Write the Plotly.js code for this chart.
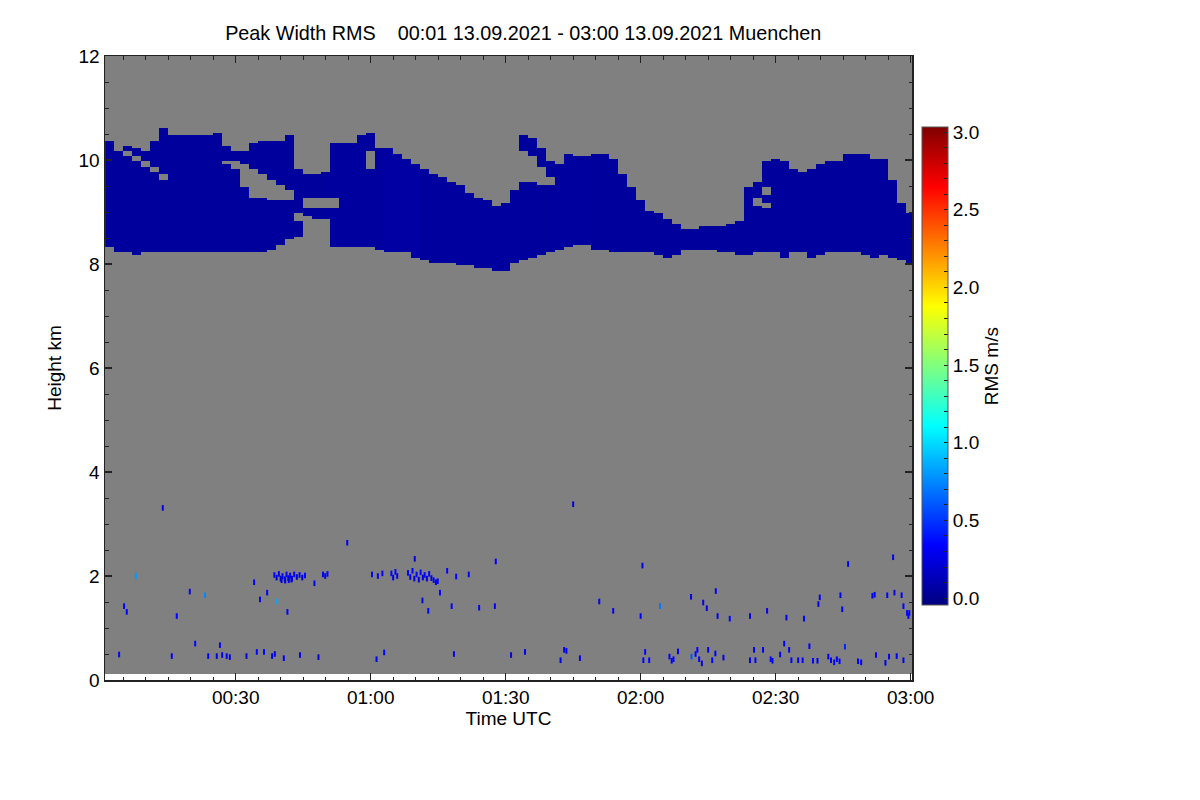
<!DOCTYPE html>
<html>
<head>
<meta charset="utf-8">
<script src="https://cdn.plot.ly/plotly-3.0.1.min.js"></script>
<style>
    html, body {margin: 0; padding: 0; background: #fff;}
    #plot {width: 1200px; height: 800px;}
</style>
</head>
<body>
<div id="plot"></div>
<script>
// profile columns, minutes after 00:00 UTC (one column every 2 minutes)
let columnMinutes = [2, 4, 6, 8, 10, 12, 14, 16, 18, 20, 22, 24, 26, 28, 30, 32, 34, 36, 38, 40,
    42, 44, 46, 48, 50, 52, 54, 56, 58, 60, 62, 64, 66, 68, 70, 72, 74, 76, 78, 80,
    82, 84, 86, 88, 90, 92, 94, 96, 98, 100, 102, 104, 106, 108, 110, 112, 114, 116, 118, 120,
    122, 124, 126, 128, 130, 132, 134, 136, 138, 140, 142, 144, 146, 148, 150, 152, 154, 156, 158, 160,
    162, 164, 166, 168, 170, 172, 174, 176, 178, 180];

// lower edge of the cirrus layer per column, km
let cloudBase = [8.35, 8.21, 8.21, 8.17, 8.21, 8.22, 8.22, 8.21, 8.22, 8.21,
    8.22, 8.22, 8.23, 8.22, 8.21, 8.22, 8.22, 8.25, 8.30, 8.37,
    8.49, 8.55, 8.92, 8.86, 8.86, 8.33, 8.33, 8.33, 8.33, 8.33,
    8.30, 8.24, 8.22, 8.21, 8.11, 8.08, 8.04, 8.01, 8.01, 8.00,
    7.98, 7.95, 7.92, 7.88, 7.90, 8.02, 8.06, 8.11, 8.17, 8.21,
    8.30, 8.35, 8.37, 8.37, 8.30, 8.27, 8.25, 8.25, 8.24, 8.24,
    8.22, 8.17, 8.14, 8.17, 8.28, 8.28, 8.30, 8.30, 8.24, 8.22,
    8.20, 8.20, 8.22, 8.22, 8.21, 8.14, 8.24, 8.21, 8.14, 8.17,
    8.21, 8.21, 8.21, 8.21, 8.20, 8.12, 8.17, 8.15, 8.08, 8.04];

// upper edge of the cirrus layer per column, km
let cloudTop = [10.37, 10.15, 10.27, 10.22, 10.16, 10.35, 10.62, 10.48, 10.48, 10.48,
    10.46, 10.46, 10.54, 10.29, 10.19, 10.17, 10.33, 10.37, 10.38, 10.37,
    10.45, 9.80, 9.72, 9.72, 9.75, 10.33, 10.33, 10.32, 10.48, 10.54,
    10.20, 10.20, 10.13, 10.00, 9.90, 9.81, 9.71, 9.65, 9.58, 9.52,
    9.39, 9.26, 9.20, 9.12, 9.15, 9.40, 10.45, 10.42, 10.23, 9.96,
    9.90, 10.10, 10.06, 10.05, 10.13, 10.13, 10.04, 9.74, 9.49, 9.23,
    9.04, 8.97, 8.88, 8.75, 8.69, 8.69, 8.72, 8.72, 8.72, 8.75,
    8.81, 9.45, 9.55, 9.97, 10.00, 9.97, 9.81, 9.76, 9.81, 9.94,
    9.95, 9.97, 10.12, 10.13, 10.12, 10.03, 10.03, 9.60, 9.15, 8.97];

// typical peak width rms inside the layer per column, m/s
let cloudRms = [0.04, 0.04, 0.04, 0.04, 0.04, 0.04, 0.04, 0.04, 0.04, 0.04,
    0.04, 0.04, 0.04, 0.04, 0.04, 0.04, 0.04, 0.04, 0.04, 0.04,
    0.04, 0.04, 0.04, 0.04, 0.04, 0.05, 0.05, 0.05, 0.05, 0.05,
    0.05, 0.06, 0.06, 0.06, 0.06, 0.05, 0.05, 0.05, 0.05, 0.05,
    0.05, 0.05, 0.05, 0.05, 0.05, 0.05, 0.04, 0.04, 0.04, 0.04,
    0.05, 0.05, 0.05, 0.05, 0.04, 0.04, 0.04, 0.04, 0.04, 0.04,
    0.04, 0.04, 0.04, 0.04, 0.04, 0.04, 0.04, 0.04, 0.04, 0.04,
    0.04, 0.04, 0.04, 0.04, 0.04, 0.04, 0.04, 0.04, 0.04, 0.04,
    0.04, 0.04, 0.04, 0.04, 0.04, 0.04, 0.04, 0.04, 0.04, 0.04];

// gaps inside the layer: column minute, lower and upper edge in km
let holeMinutes = [6, 8, 10, 12, 14, 28, 30, 32, 34, 36, 38, 40, 42, 44, 46, 48, 50, 52, 60,
    94, 96, 98, 100, 146, 148, 148];
let holeLow = [10.08, 9.98, 9.87, 9.75, 9.62, 9.90, 9.81, 9.45, 9.28, 9.26, 9.24, 9.22, 9.20, 8.80,
    9.08, 9.08, 9.08, 9.08, 9.84, 9.55, 9.55, 9.52, 9.50, 9.10, 9.30, 9.05];
let holeHigh = [10.16, 10.10, 9.98, 9.87, 9.74, 10.00, 9.99, 9.92, 9.84, 9.71, 9.62, 9.54, 9.44, 8.98,
    9.27, 9.30, 9.30, 9.27, 10.16, 10.20, 10.10, 9.90, 9.70, 9.27, 9.50, 9.20];

// isolated echoes in the boundary layer
let echoMinutes = [4.1, 5.2, 5.8, 7.8, 13.8, 15.8, 16.9, 19.8, 21.0, 23.2,
    23.9, 25.8, 26.5, 27.0, 28.0, 28.7, 32.4, 34.1, 34.7, 35.4,
    36.3, 37.0, 38.1, 38.7, 39.2, 40.7, 41.5, 44.3, 47.5, 48.4,
    54.8, 61.3, 63.0, 69.8, 71.5, 72.8, 75.4, 77.0, 78.0, 78.5,
    79.0, 81.8, 84.1, 87.6, 87.8,
    38.6, 39.1, 39.6, 40.0, 40.4, 40.9, 41.3, 41.7, 42.1, 42.5,
    43.0, 43.6, 44.2, 44.8, 45.4, 40.2, 41.0, 41.8, 42.4,
    49.4, 49.9, 50.4, 60.3, 61.6, 62.6, 64.6, 65.0, 65.5, 65.9,
    68.3, 68.8, 69.3, 69.7, 70.2, 70.7, 71.1, 71.6, 72.0, 72.5,
    73.0, 73.5, 74.0, 74.5, 74.9,
    91.2, 94.3, 102.2, 103.0, 103.5, 105.0, 106.5, 110.8, 113.9, 120.0,
    120.4, 120.6, 121.0, 121.9, 124.3, 126.4, 126.9, 127.3, 128.3, 131.2,
    131.3, 132.2, 132.6, 133.0, 133.6, 133.9, 134.7, 135.0, 135.9, 136.6,
    136.7, 137.1, 138.4, 139.8, 144.3, 144.3, 145.2, 145.5, 147.2, 148.1,
    148.9, 149.3, 151.0, 151.9, 152.4, 153.0, 153.5, 155.0, 156.0, 156.3,
    157.5, 158.3, 159.3, 159.5, 159.8, 161.7, 162.3, 163.0, 163.6, 164.2,
    164.4, 164.8, 165.4, 166.1, 168.3, 169.0, 171.5, 172.0, 172.3, 174.4,
    174.8, 175.2, 176.1, 176.4, 176.9, 178.0, 178.4, 178.4, 179.2, 179.7, 179.5];
let echoHeights = [0.49, 1.42, 1.31, 2.00, 3.31, 0.46, 1.23, 1.70, 0.70, 1.63,
    0.46, 0.46, 0.67, 0.48, 0.46, 0.44, 0.46, 1.88, 0.54, 1.55,
    0.54, 1.68, 0.46, 0.50, 1.51, 0.42, 1.31, 0.48, 1.86, 0.44,
    2.64, 0.40, 0.53, 2.33, 1.53, 1.33, 1.68, 2.10, 1.42, 0.50,
    1.99, 2.03, 1.39, 1.42, 2.28,
    2.02, 1.97, 2.04, 1.95, 2.00, 1.94, 2.03, 1.96, 2.01, 1.95,
    2.03, 1.98, 2.02, 1.97, 2.01, 1.92, 1.91, 1.92, 1.93,
    2.03, 2.00, 2.04, 2.03, 2.00, 2.05, 2.05, 1.97, 2.08, 2.00,
    2.06, 1.98, 2.10, 1.95, 2.03, 1.93, 2.07, 1.97, 2.02, 1.95,
    2.04, 1.96, 1.92, 1.88, 1.90,
    0.48, 0.54, 0.38, 0.58, 0.56, 3.38, 0.42, 1.51, 1.33, 1.23,
    2.20, 0.38, 0.54, 0.38, 1.42, 0.45, 0.37, 0.40, 0.55, 1.60,
    0.45, 0.50, 0.58, 0.40, 0.32, 1.49, 1.38, 0.58, 0.38, 0.51,
    1.71, 1.23, 0.43, 1.18, 1.23, 0.38, 0.58, 0.38, 0.58, 1.33,
    0.40, 0.37, 0.49, 0.70, 1.20, 0.58, 0.38, 0.38, 0.38, 1.18,
    0.65, 0.37, 0.37, 1.46, 1.59, 0.45, 0.38, 0.34, 0.40, 0.36,
    1.63, 1.36, 0.64, 2.23, 0.36, 0.34, 1.62, 1.64, 0.48, 0.33,
    1.63, 0.45, 2.36, 1.68, 0.46, 1.63, 1.42, 0.38, 1.29, 1.29, 1.23];
let echoRms = [0.35, 0.35, 0.35, 0.80, 0.30, 0.30, 0.35, 0.35, 0.35, 0.75,
    0.30, 0.30, 0.35, 0.30, 0.35, 0.30, 0.30, 0.35, 0.35, 0.35,
    0.35, 0.35, 0.25, 0.25, 0.85, 0.30, 0.35, 0.30, 0.35, 0.30,
    0.30, 0.30, 0.35, 0.30, 0.35, 0.35, 0.35, 0.35, 0.35, 0.30,
    0.35, 0.35, 0.35, 0.30, 0.30,
    0.35, 0.20, 0.35, 0.20, 0.35, 0.20, 0.35, 0.20, 0.35, 0.20,
    0.35, 0.20, 0.35, 0.20, 0.35, 0.25, 0.25, 0.25, 0.25,
    0.35, 0.25, 0.35, 0.35, 0.35, 0.35, 0.35, 0.25, 0.35, 0.25,
    0.35, 0.25, 0.35, 0.25, 0.35, 0.25, 0.35, 0.25, 0.35, 0.25,
    0.35, 0.25, 0.35, 0.30, 0.35,
    0.30, 0.30, 0.30, 0.30, 0.30, 0.25, 0.30, 0.30, 0.30, 0.30,
    0.30, 0.35, 0.35, 0.35, 0.70, 0.35, 0.30, 0.35, 0.30, 0.30,
    0.60, 0.35, 0.35, 0.35, 0.30, 0.30, 0.30, 0.30, 0.35, 0.30,
    0.30, 0.30, 0.30, 0.35, 0.30, 0.30, 0.30, 0.35, 0.30, 0.30,
    0.35, 0.30, 0.30, 0.30, 0.30, 0.30, 0.35, 0.30, 0.35, 0.35,
    0.30, 0.35, 0.30, 0.30, 0.30, 0.30, 0.30, 0.35, 0.30, 0.35,
    0.30, 0.30, 0.45, 0.30, 0.35, 0.30, 0.30, 0.30, 0.35, 0.30,
    0.35, 0.30, 0.30, 0.35, 0.30, 0.35, 0.35, 0.30, 0.35, 0.35, 0.35];

// measured range of the instrument (grey = no signal)
let rangeLowKm = 0.115;
let rangeHighKm = 12;

let timeTickValues = [30, 60, 90, 120, 150, 180];
let timeTickLabels = ['00:30', '01:00', '01:30', '02:00', '02:30', '03:00'];
let rmsTickValues = [0.0, 0.1, 0.2, 0.3, 0.4, 0.5, 0.6, 0.7, 0.8, 0.9, 1.0,
    1.1, 1.2, 1.3, 1.4, 1.5, 1.6, 1.7, 1.8, 1.9, 2.0,
    2.1, 2.2, 2.3, 2.4, 2.5, 2.6, 2.7, 2.8, 2.9, 3.0];
let rmsTickLabels = ['0.0', '', '', '', '', '0.5', '', '', '', '', '1.0',
    '', '', '', '', '1.5', '', '', '', '', '2.0',
    '', '', '', '', '2.5', '', '', '', '', '3.0'];

let fontFamily = 'Liberation Sans, Arial, sans-serif';

/**
 * Height gates of the heatmap, 50 m apart, covering the cirrus layer
 * @returns {number[]}
 */
function buildHeightGates() {
    let gates = [];
    for (let j = 0; j <= 72; j++) {
        gates.push(Math.round((7.6 + j * 0.05) * 100) / 100);
    }
    return gates;
}

/**
 * Checks whether a gate falls into one of the listed gaps of a column
 * @param minute column time
 * @param height gate height
 * @returns {boolean}
 */
function inHole(minute, height) {
    for (let k = 0; k < holeMinutes.length; k++) {
        if (holeMinutes[k] === minute && height > holeLow[k] && height < holeHigh[k]) {
            return true;
        }
    }
    return false;
}

/**
 * Builds the z table for the heatmap from the layer edges, null = no signal
 * @param gates height gates
 * @returns {Array}
 */
function buildCloudGrid(gates) {
    let z = [];
    for (let j = 0; j < gates.length; j++) {
        let h = gates[j];
        let row = [];
        for (let i = 0; i < columnMinutes.length; i++) {
            let inside = h >= cloudBase[i] && h <= cloudTop[i] && !inHole(columnMinutes[i], h);
            row.push(inside ? cloudRms[i] : null);
        }
        z.push(row);
    }
    return z;
}

let gates = buildHeightGates();

let cloudTrace = {
    type: 'heatmap',
    x: columnMinutes,
    y: gates,
    z: buildCloudGrid(gates),
    coloraxis: 'coloraxis',
    zsmooth: false,
    hoverongaps: false
};

// single gates show up as short vertical dashes
let echoTrace = {
    type: 'scatter',
    mode: 'markers',
    x: echoMinutes,
    y: echoHeights,
    marker: {
        symbol: 'line-ns',
        size: 4,
        line: {width: 2, color: echoRms, coloraxis: 'coloraxis'}
    },
    showlegend: false
};

let axisFont = {family: fontFamily, size: 19, color: '#000'};

let layout = {
    width: 1200,
    height: 800,
    margin: {l: 105, r: 288, t: 56, b: 120},
    paper_bgcolor: '#fff',
    plot_bgcolor: '#fff',
    font: axisFont,
    showlegend: false,
    title: {
        text: 'Peak Width RMS\u00a0\u00a0\u00a0 00:01 13.09.2021 - 03:00 13.09.2021 Muenchen',
        font: {family: fontFamily, size: 19.8, color: '#000'},
        xref: 'container', x: 0.436, xanchor: 'center',
        yref: 'container', y: 0.959, yanchor: 'middle'
    },
    xaxis: {
        range: [0.96, 180.3],
        tickmode: 'array',
        tickvals: timeTickValues,
        ticktext: timeTickLabels,
        ticks: 'inside', ticklen: 7, tickwidth: 1.2, tickcolor: '#222',
        minor: {tickmode: 'linear', tick0: 0, dtick: 5, ticks: 'inside', ticklen: 3.5, tickwidth: 1, tickcolor: '#222'},
        showline: true, linecolor: '#222', linewidth: 1.5, mirror: 'ticks',
        showgrid: false, zeroline: false,
        tickfont: axisFont,
        title: {text: 'Time UTC', font: axisFont, standoff: 2}
    },
    yaxis: {
        range: [0, 12],
        tick0: 0, dtick: 2,
        ticks: 'inside', ticklen: 7, tickwidth: 1.2, tickcolor: '#222',
        minor: {tick0: 0, dtick: 0.5, ticks: 'inside', ticklen: 3.5, tickwidth: 1, tickcolor: '#222'},
        showline: true, linecolor: '#222', linewidth: 1.5, mirror: 'ticks',
        showgrid: false, zeroline: false,
        tickfont: axisFont,
        title: {text: 'Height km', font: axisFont, standoff: 12}
    },
    coloraxis: {
        cmin: -0.045,
        cmax: 3.032,
        colorscale: [
            [0, 'rgb(0,0,128)'],
            [0.125, 'rgb(0,0,255)'],
            [0.375, 'rgb(0,255,255)'],
            [0.625, 'rgb(255,255,0)'],
            [0.875, 'rgb(255,0,0)'],
            [1, 'rgb(128,0,0)']
        ],
        colorbar: {
            thicknessmode: 'pixels', thickness: 26,
            lenmode: 'fraction', len: 0.766,
            x: 1.0124, xanchor: 'left', xpad: 0,
            y: 0.503, yanchor: 'middle', ypad: 0,
            outlinecolor: '#555', outlinewidth: 1,
            tickmode: 'array',
            tickvals: rmsTickValues,
            ticktext: rmsTickLabels,
            ticks: 'inside', ticklen: 4, tickcolor: '#222',
            tickfont: axisFont,
            title: {text: 'RMS m/s', side: 'right', font: axisFont}
        }
    },
    shapes: [{
        type: 'rect', layer: 'below',
        xref: 'paper', x0: 0, x1: 1,
        yref: 'y', y0: rangeLowKm, y1: rangeHighKm,
        fillcolor: '#808080', line: {width: 0}
    }]
};

Plotly.newPlot('plot', [cloudTrace, echoTrace], layout, {displayModeBar: false, staticPlot: true});
</script>
</body>
</html>
